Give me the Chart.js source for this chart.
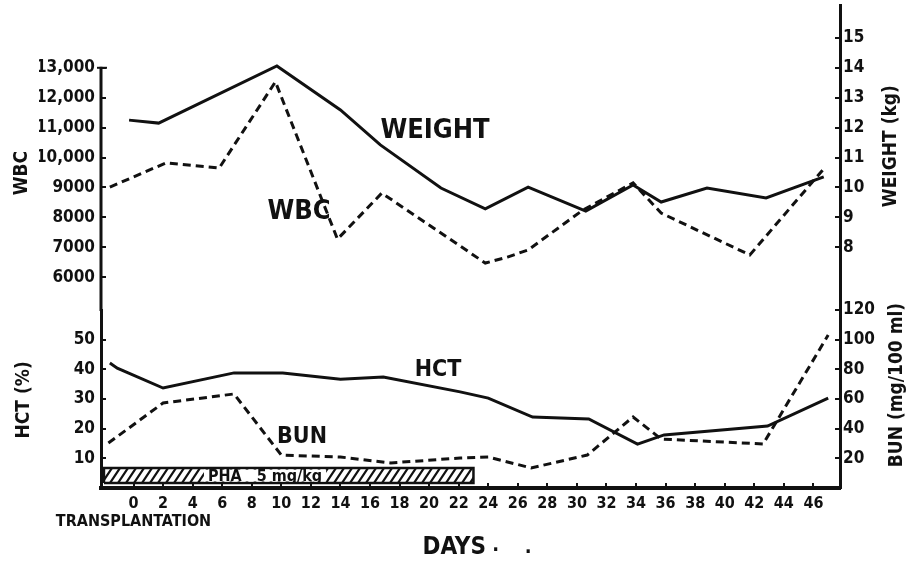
<!DOCTYPE html>
<html><head><meta charset="utf-8">
<script src="https://cdn.jsdelivr.net/npm/chart.js@4.4.1/dist/chart.umd.min.js"></script>
<style>html,body{margin:0;padding:0;background:#fff;}canvas{display:block;}</style>
</head><body>
<canvas id="c" width="908" height="566"></canvas>
<script>
// ---------- data ----------
const dayTicks = [0,2,4,6,8,10,12,14,16,18,20,22,24,26,28,30,32,34,36,38,40,42,44,46];
const wbcTicks = [6000,7000,8000,9000,10000,11000,12000,13000];
const wbcTickLabels = ['6000','7000','8000','9000','10,000','11,000','12,000','13,000'];
const weightTicks = [8,9,10,11,12,13,14,15];
const hctTicks = [10,20,30,40,50];
const bunTicks = [20,40,60,80,100,120];

const weightDays = [-0.3, 1.7, 9.7, 14.0, 16.7, 20.8, 23.8, 26.7, 30.6, 33.8, 35.7, 38.8, 42.8, 46.7];
const weightKg   = [12.25, 12.15, 14.06, 12.59, 11.42, 9.98, 9.28, 10.01, 9.21, 10.08, 9.51, 9.98, 9.65, 10.35];

const wbcDays   = [-1.6, 2.2, 5.8, 9.6, 13.8, 16.8, 23.8, 25.3, 26.7, 30.4, 33.8, 35.7, 41.7, 46.8];
const wbcCounts = [9010, 9820, 9650, 12530, 7270, 8810, 6470, 6670, 6910, 8240, 9150, 8140, 6740, 9680];

const hctDays = [-1.6, -1.1, 2.0, 6.8, 10.1, 14.0, 16.9, 22.1, 24.0, 27.0, 30.8, 34.1, 35.9, 42.9, 47.0];
const hctPct  = [42.1, 40.4, 33.7, 38.8, 38.8, 36.7, 37.4, 32.4, 30.3, 23.9, 23.3, 14.8, 17.9, 20.9, 30.3];

const bunDays = [-1.7, 2.0, 6.8, 10.0, 14.0, 17.4, 22.1, 24.0, 26.9, 30.7, 33.8, 35.7, 42.6, 47.0];
const bunMg   = [30.3, 57.3, 63.4, 22.2, 20.9, 16.9, 20.2, 20.9, 13.5, 22.2, 47.9, 33.0, 29.7, 103.1];

const phaDays = [-2, 23];
const phaLabel = 'PHA   5 mg/kg';

// ---------- styles ----------
const FAM = '"DejaVu Sans Condensed", "Liberation Sans Narrow", "DejaVu Sans", sans-serif';
const INK = '#111';
const BAND_LO = 1.7, BAND_HI = 6.7;   // vertical placement of the PHA bar (HCT units)

function hatchPattern() {
  const c = document.createElement('canvas');
  c.width = 8; c.height = 12;
  const g = c.getContext('2d');
  g.strokeStyle = INK; g.lineWidth = 2.2; g.lineCap = 'square';
  g.beginPath();
  g.moveTo(0, 12); g.lineTo(8, 0);
  g.moveTo(-2, 3); g.lineTo(2, -3);
  g.moveTo(6, 15); g.lineTo(10, 9);
  g.stroke();
  return g.createPattern(c, 'repeat');
}

const pts = (xs, ys) => xs.map((x, i) => ({x, y: ys[i]}));

function yAxis(pos, stack, stackWeight, weight, min, max, ticks, labelFn, width, pad) {
  return {
    type: 'linear', position: pos, stack, stackWeight, weight, min, max,
    afterBuildTicks: s => { s.ticks = ticks.map(v => ({value: v})); },
    afterFit: s => { s.width = width; s.paddingTop = 0; s.paddingBottom = 0; },
    ticks: { autoSkip: false, padding: pad, color: INK, font: {family: FAM, size: 17, weight: 'bold'},
             callback: v => labelFn(v) },
    grid: { drawOnChartArea: false, tickLength: -5, color: INK, lineWidth: 2 },
    border: { display: true, color: INK, width: 3 }
  };
}

const scales = {
  x: {
    type: 'linear', position: 'bottom', min: -2.2, max: 47.8,
    afterBuildTicks: s => { s.ticks = dayTicks.map(v => ({value: v})); },
    afterFit: s => { s.height = 50; },
    ticks: { autoSkip: false, maxRotation: 0, padding: 12, color: INK,
             font: {family: FAM, size: 16, weight: 'bold', lineHeight: 1.1},
             callback: v => v === 0 ? ['0', 'TRANSPLANTATION'] : String(v) },
    grid: { drawOnChartArea: false, tickLength: -5, color: INK, lineWidth: 2 },
    border: { display: true, color: INK, width: 4 }
  },
  wbc: yAxis('left', 'L', 305, 2, 4900, 15100, wbcTicks, v => wbcTickLabels[wbcTicks.indexOf(v)], 62, 11),
  hct: yAxis('left', 'L', 178, 1, 0, 60, hctTicks, v => String(v), 62, 11),
  wt:  yAxis('right', 'R', 305, 1, 5.9, 16.1, weightTicks, v => String(v), 42, 8),
  bun: yAxis('right', 'R', 178, 2, 0, 120, bunTicks, v => String(v), 42, 8)
};
scales.wbc.border.display = false;

const lineBase = { borderColor: INK, borderWidth: 3, pointRadius: 0, fill: false, tension: 0, xAxisID: 'x' };

const annot = {
  id: 'annot',
  afterDatasetsDraw(chart) {
    const ctx = chart.ctx, S = chart.scales, A = chart.chartArea;
    const X = S.x, W = S.wbc, H = S.hct, K = S.wt, B = S.bun;
    ctx.save();
    ctx.fillStyle = INK; ctx.strokeStyle = INK;
    // left axis line of the WBC section (starts at top tick)
    const ax = H.right;
    const yTop = W.getPixelForValue(wbcTicks[wbcTicks.length - 1]);
    ctx.lineWidth = 3;
    ctx.beginPath(); ctx.moveTo(ax, yTop - 1); ctx.lineTo(ax, W.bottom + 1); ctx.stroke();
    ctx.lineWidth = 2;
    ctx.beginPath(); ctx.moveTo(ax - 4, yTop); ctx.lineTo(ax + 6, yTop); ctx.stroke();

    const text = (t, x, y, size, align) => {
      ctx.font = 'bold ' + size + 'px ' + FAM;
      ctx.textAlign = align || 'center'; ctx.textBaseline = 'middle';
      ctx.fillText(t, x, y);
    };
    const vtext = (t, x, y, size) => {
      ctx.save(); ctx.translate(x, y); ctx.rotate(-Math.PI / 2);
      text(t, 0, 0, size); ctx.restore();
    };
    // PHA label inside bar
    const px = X.getPixelForValue(8.9);
    const pyTop = H.getPixelForValue(BAND_HI), pyBot = H.getPixelForValue(BAND_LO);
    ctx.font = 'bold 16px ' + FAM;
    const tw = ctx.measureText(phaLabel).width;
    ctx.fillStyle = '#fff';
    ctx.fillRect(px - tw / 2 - 4, pyTop + 1.5, tw + 8, pyBot - pyTop - 3);
    ctx.fillStyle = INK;
    text(phaLabel, px, (pyTop + pyBot) / 2 + 1, 16);

    // series labels
    text('WEIGHT', X.getPixelForValue(20.4), K.getPixelForValue(11.9), 27);
    text('WBC', X.getPixelForValue(11.2), W.getPixelForValue(8180), 27);
    text('HCT', X.getPixelForValue(20.6), H.getPixelForValue(39.8), 23);
    text('BUN', X.getPixelForValue(11.4), B.getPixelForValue(34.4), 23);

    // axis titles
    vtext('WBC', A.left - 79, W.getPixelForValue(9480), 19);
    vtext('HCT (%)', A.left - 77, H.getPixelForValue(29.7), 19);
    vtext('WEIGHT (kg)', A.right + 51, K.getPixelForValue(11.38), 19);
    vtext('BUN (mg/100 ml)', A.right + 57, B.getPixelForValue(69.4), 19);

    // x title
    text('DAYS', X.getPixelForValue(21.7), A.bottom + 60, 24);
    text('·', X.getPixelForValue(24.5), A.bottom + 63, 20);
    text('.', X.getPixelForValue(26.7), A.bottom + 60, 20);
    ctx.restore();
  }
};

new Chart(document.getElementById('c'), {
  type: 'line',
  data: {
    datasets: [
      Object.assign({}, lineBase, { label: 'Weight', yAxisID: 'wt', data: pts(weightDays, weightKg) }),
      Object.assign({}, lineBase, { label: 'WBC', yAxisID: 'wbc', data: pts(wbcDays, wbcCounts), borderDash: [8, 5] }),
      Object.assign({}, lineBase, { label: 'HCT', yAxisID: 'hct', data: pts(hctDays, hctPct) }),
      Object.assign({}, lineBase, { label: 'BUN', yAxisID: 'bun', data: pts(bunDays, bunMg), borderDash: [8, 5] }),
      Object.assign({}, lineBase, { label: 'PHA', yAxisID: 'hct', borderWidth: 2.5, fill: 'shape',
        backgroundColor: hatchPattern(),
        data: [{x: phaDays[0], y: BAND_LO}, {x: phaDays[0], y: BAND_HI}, {x: phaDays[1], y: BAND_HI},
               {x: phaDays[1], y: BAND_LO}, {x: phaDays[0], y: BAND_LO}] })
    ]
  },
  options: {
    responsive: false, animation: false, devicePixelRatio: 1,
    layout: { padding: { left: 39, right: 26, top: 5, bottom: 28 } },
    plugins: { legend: { display: false }, tooltip: { enabled: false } },
    scales
  },
  plugins: [annot]
});
</script>
</body></html>
